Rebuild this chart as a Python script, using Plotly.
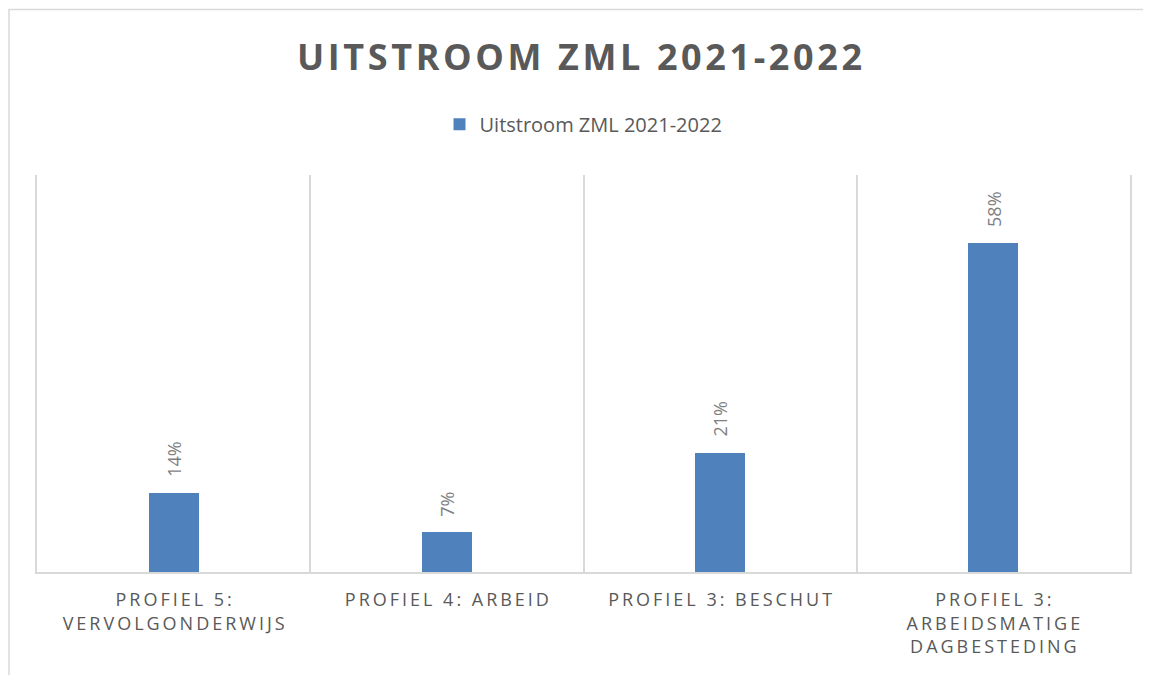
import plotly.graph_objects as go

# Data
categories = [
    ["PROFIEL 5:", "VERVOLGONDERWIJS"],
    ["PROFIEL 4: ARBEID"],
    ["PROFIEL 3: BESCHUT"],
    ["PROFIEL 3:", "ARBEIDSMATIGE", "DAGBESTEDING"],
]
uitstroom = [0.14, 0.07, 0.21, 0.58]
series_name = "Uitstroom ZML 2021-2022"
chart_title = "UITSTROOM ZML 2021-2022"


def spread(text, gap):
    # mimic Excel's character spacing
    return gap.join(text)


labels = ["<br>".join(spread(line, "\u2009") for line in cat) for cat in categories]

W, H = 1143, 667  # page adds an 8px body margin

fig = go.Figure()
fig.add_trace(go.Bar(
    x=labels,
    y=uitstroom,
    name=series_name,
    width=0.183,
    marker=dict(color="#4F81BD", line=dict(width=0)),
    showlegend=True,
))

# rotated data labels above each bar
for lab, v in zip(labels, uitstroom):
    fig.add_annotation(
        x=lab, y=v, text=f"{round(v * 100)}%",
        textangle=-90, showarrow=False,
        yanchor="bottom", yshift=14,
        font=dict(family="Open Sans", size=18, color="#7f7f7f"),
    )

# chart frame (light grey border like the Excel chart area)
fig.add_shape(
    type="rect", xref="paper", yref="paper",
    x0=-0.0256, x1=1.2, y0=-0.5, y1=1.417,
    line=dict(color="#d9d9d9", width=1.5), layer="below",
)

fig.update_layout(
    width=W, height=H,
    margin=dict(l=29, r=21, t=167, b=103),
    paper_bgcolor="white",
    plot_bgcolor="white",
    font=dict(family="Open Sans", color="#595959"),
    title=dict(
        text=spread(chart_title, "\u200a"),
        x=0.5, xanchor="center",
        y=1 - 49 / H, yanchor="middle", yref="container",
        font=dict(family="Open Sans", size=36, color="#595959", weight="bold"),
    ),
    legend=dict(
        orientation="h",
        x=0.5, xanchor="center",
        y=1.128, yanchor="middle",
        font=dict(family="Open Sans", size=20, color="#595959"),
        itemclick=False,
    ),
    bargap=0,
)
fig.update_xaxes(
    type="category",
    tickson="boundaries",
    showgrid=True, gridcolor="#d9d9d9", gridwidth=1.5,
    showline=True, linecolor="#d9d9d9", linewidth=1.5,
    ticks="",
    ticklabelstandoff=11,
    tickfont=dict(family="Open Sans", size=18, color="#595959"),
)
fig.update_yaxes(
    range=[0, 0.7], showgrid=False, zeroline=False,
    showticklabels=False, ticks="",
    showline=True, mirror=True, linecolor="#d9d9d9", linewidth=1.5,
)

fig.write_html("out.html")
